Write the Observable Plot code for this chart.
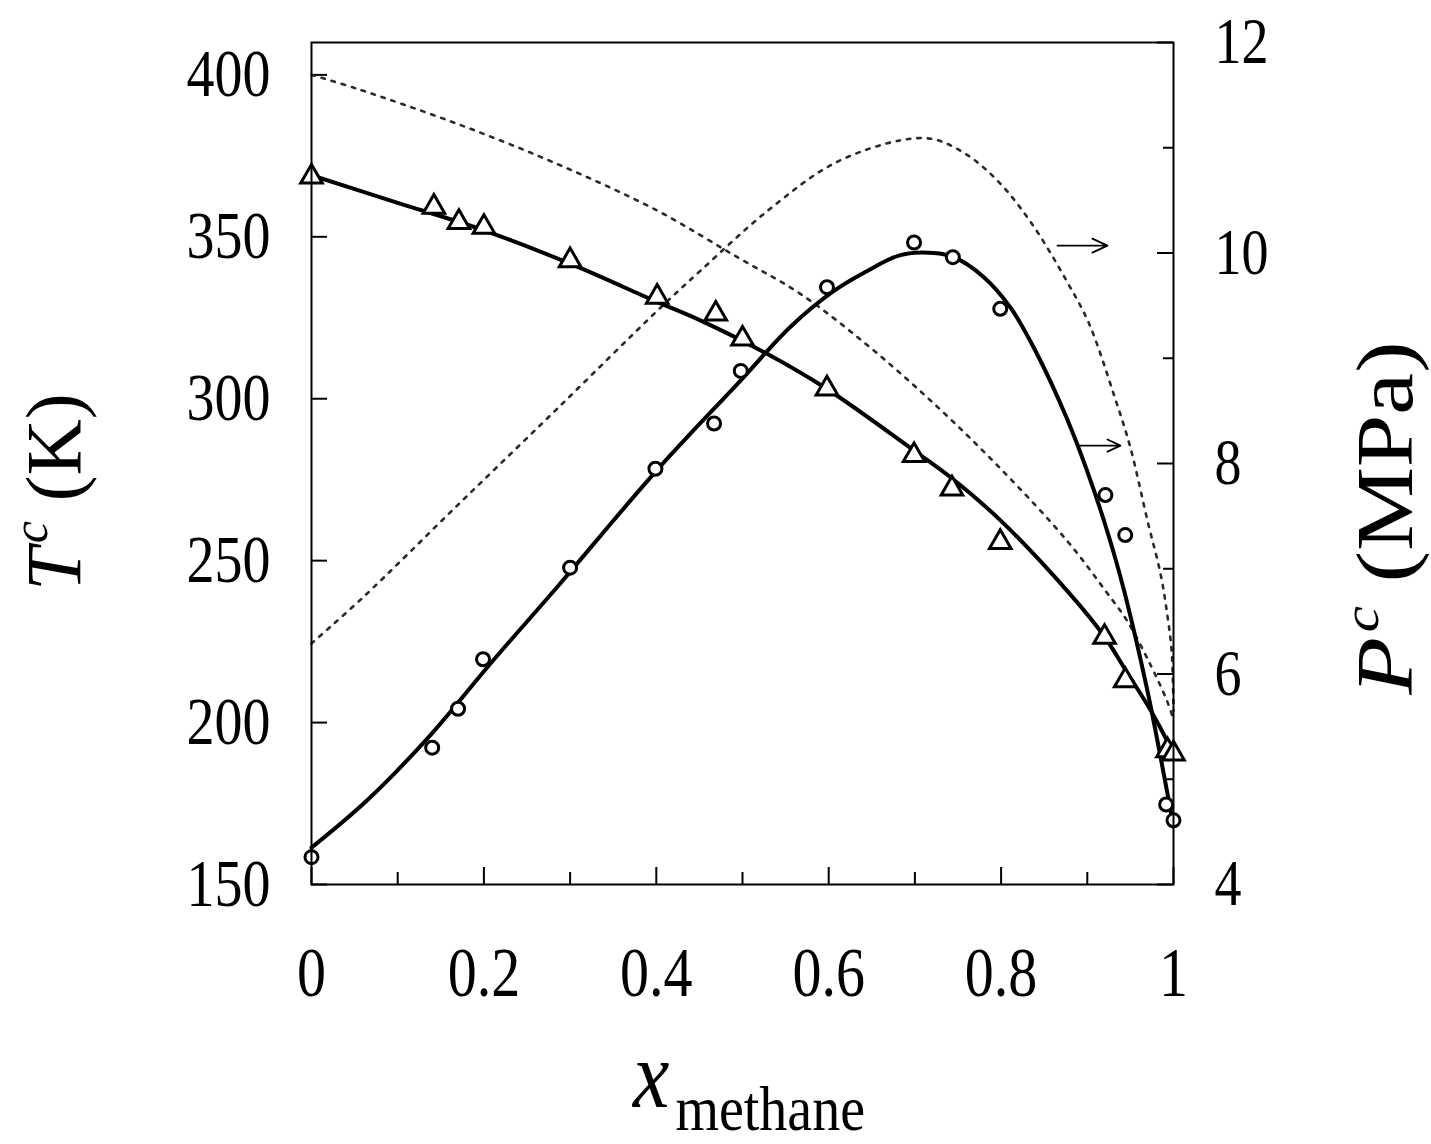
<!DOCTYPE html>
<html><head><meta charset="utf-8">
<script src="https://cdn.jsdelivr.net/npm/d3@7"></script>
<script src="https://cdn.jsdelivr.net/npm/@observablehq/plot@0.6"></script>
<style>html,body{margin:0;padding:0;background:#fff;} #chart svg{display:block;}</style>
</head><body><div id="chart"></div>
<script>
// ---- Data ----
// Experimental critical temperatures (triangles, left axis, K)
const xTri  = [0, 0.142, 0.171, 0.200, 0.300, 0.401, 0.469, 0.500, 0.598, 0.699, 0.743, 0.799, 0.920, 0.944, 0.993, 1.0];
const tcExp = [368.5, 359.2, 354.5, 353.0, 342.7, 331.4, 326.2, 318.5, 303.1, 282.5, 272.2, 255.7, 226.4, 213.0, 191.4, 190.4];
// Experimental critical pressures (circles, right axis, MPa)
const xCirc = [0, 0.140, 0.170, 0.199, 0.300, 0.399, 0.467, 0.498, 0.598, 0.699, 0.744, 0.799, 0.921, 0.944, 0.9915, 1.0];
const pcExp = [4.26, 5.30, 5.67, 6.14, 7.01, 7.95, 8.38, 8.88, 9.675, 10.10, 9.96, 9.47, 7.70, 7.32, 4.76, 4.61];
// Model 1 (solid) Tc
const xTcSolid = [0, 0.1, 0.2, 0.3, 0.4, 0.451, 0.529, 0.598, 0.699, 0.745, 0.799, 0.8805, 0.92, 0.946, 0.973, 1.0];
const tcSolid  = [369, 360.5, 352, 341.7, 330, 324.2, 313.8, 303, 284, 275, 262.5, 239.5, 226.5, 215.5, 204, 190.5];
// Model 1 (solid) Pc
const xPcSolid = [0, 0.0646, 0.138, 0.2077, 0.277, 0.3, 0.4, 0.498, 0.5557, 0.606, 0.6447, 0.6833, 0.722, 0.745, 0.78, 0.811, 0.838, 0.8767, 0.9075, 0.9307, 0.944, 0.9695, 0.9887, 1.0];
const pcSolid  = [4.35, 4.80, 5.42, 6.10, 6.75, 6.97, 7.93, 8.79, 9.30, 9.64, 9.83, 9.98, 10.0, 9.96, 9.77, 9.48, 9.10, 8.42, 7.75, 7.15, 6.75, 5.85, 5.05, 4.55];
// Model 2 (dotted) Tc
const xTcDot = [0, 0.053, 0.169, 0.285, 0.401, 0.494, 0.567, 0.645, 0.722, 0.799, 0.877, 0.923, 0.946, 0.973, 0.992, 1.0];
const tcDot  = [400, 395.7, 384.9, 372.5, 358.1, 343.7, 332.4, 316.5, 298.5, 278.5, 256, 240, 231.5, 218, 207, 201];
// Model 2 (dotted) Pc
const xPcDot = [0, 0.06, 0.169, 0.285, 0.401, 0.451, 0.529, 0.606, 0.683, 0.722, 0.761, 0.799, 0.838, 0.877, 0.902, 0.931, 0.95, 0.97, 0.985, 0.993, 0.998, 1.0];
const pcDot  = [6.29, 6.73, 7.60, 8.52, 9.45, 9.83, 10.40, 10.85, 11.07, 11.08, 10.93, 10.66, 10.25, 9.72, 9.33, 8.65, 8.15, 7.45, 6.95, 6.55, 6.20, 5.65];
// Arrows pointing to the right (pressure) axis
const arrowX1 = [0.8654, 0.8886];
const arrowX2 = [0.9234, 0.9385];
const arrowP  = [10.07, 8.17];
// Axes
const tDomain = [150, 410];
const pDomain = [4, 12];
const xMajorTicks = [0, 0.2, 0.4, 0.6, 0.8, 1];
const xMinorTicks = [0.1, 0.3, 0.5, 0.7, 0.9];
const xTickLabels = ["0", "0.2", "0.4", "0.6", "0.8", "1"];
const tTicks = [150, 200, 250, 300, 350, 400];
const pMajorTicks = [4, 6, 8, 10, 12];
const pMinorTicks = [5, 7, 9, 11];

// ---- Helpers ----
const pToT = p => tDomain[0] + (p - pDomain[0]) * (tDomain[1] - tDomain[0]) / (pDomain[1] - pDomain[0]);
const tToP = t => pDomain[0] + (t - tDomain[0]) * (pDomain[1] - pDomain[0]) / (tDomain[1] - tDomain[0]);
const rows = (xs, ys, f = v => v) => xs.map((x, i) => ({x, y: f(ys[i])}));

const W = 1431, H = 1144;
const mL = 311, mR = 258, mT = 42, mB = 260;
const fw = W - mL - mR, fh = H - mT - mB;
const serif = "'Liberation Serif', 'Times New Roman', serif";

const chart = Plot.plot({
  width: W, height: H,
  marginLeft: mL, marginRight: mR, marginTop: mT, marginBottom: mB,
  x: {domain: [0, 1]},
  y: {domain: tDomain},
  style: {fontFamily: serif, background: "white", color: "black"},
  marks: [
    // ticks (inward)
    Plot.tickX(xMajorTicks, {x: d => d, insetTop: fh - 17, strokeWidth: 2}),
    Plot.tickX(xMinorTicks, {x: d => d, insetTop: fh - 12, strokeWidth: 2}),
    Plot.tickY(tTicks, {y: d => d, insetRight: fw - 16, strokeWidth: 2}),
    Plot.tickY(pMajorTicks.map(pToT), {y: d => d, insetLeft: fw - 16, strokeWidth: 2}),
    Plot.tickY(pMinorTicks.map(pToT), {y: d => d, insetLeft: fw - 10, strokeWidth: 2}),
    // dotted model curves
    Plot.line(rows(xTcDot, tcDot), {x: "x", y: "y", curve: "catmull-rom", stroke: "#2a2a2a", strokeWidth: 2.6, strokeDasharray: "3.5,7"}),
    Plot.line(rows(xPcDot, pcDot, pToT), {x: "x", y: "y", curve: "catmull-rom", stroke: "#2a2a2a", strokeWidth: 2.6, strokeDasharray: "3.5,7"}),
    // solid model curves
    Plot.line(rows(xTcSolid, tcSolid), {x: "x", y: "y", curve: "catmull-rom", stroke: "black", strokeWidth: 4}),
    Plot.line(rows(xPcSolid, pcSolid, pToT), {x: "x", y: "y", curve: "catmull-rom", stroke: "black", strokeWidth: 4}),
    // arrows
    Plot.arrow(arrowX1.map((x1, i) => ({x1, x2: arrowX2[i], y: pToT(arrowP[i])})),
      {x1: "x1", x2: "x2", y1: "y", y2: "y", stroke: "black", strokeWidth: 1.8, headLength: 16, headAngle: 50}),
    // experimental points
    Plot.dot(rows(xTri, tcExp), {x: "x", y: "y", symbol: "triangle", r: 8, stroke: "black", strokeWidth: 3, fill: "white"}),
    Plot.dot(rows(xCirc, pcExp, pToT), {x: "x", y: "y", symbol: "circle", r: 6.5, stroke: "black", strokeWidth: 3, fill: "white"}),
    // frame
    Plot.frame({stroke: "black", strokeWidth: 2}),
    // axes (labels only)
    Plot.axisX(xMajorTicks, {tickSize: 0, tickPadding: 62, fontSize: 58, label: null,
      tickFormat: d => xTickLabels[xMajorTicks.indexOf(d)]}),
    Plot.axisY(tTicks, {anchor: "left", tickSize: 0, tickPadding: 41, fontSize: 56, label: null, tickFormat: d => String(d)}),
    Plot.axisY(pMajorTicks.map(pToT), {anchor: "right", tickSize: 0, tickPadding: 41, fontSize: 54, label: null,
      tickFormat: d => String(Math.round(tToP(d)))})
  ]
});

document.getElementById("chart").appendChild(chart);

// stretch tick labels vertically like the scanned original
chart.querySelectorAll('g[aria-label$="tick label"] text').forEach(t => {
  const tr = t.getAttribute("transform") || "";
  t.setAttribute("transform", tr + " scale(1,1.2)");
});

// axis titles
const svg = d3.select(chart);
const lt = svg.append("text")
  .attr("transform", "translate(80,492) rotate(-90)")
  .attr("text-anchor", "middle").attr("font-family", serif).attr("font-size", 78).attr("fill", "black");
lt.append("tspan").attr("font-style", "italic").text("T");
lt.append("tspan").attr("font-style", "italic").attr("font-size", 50).attr("dy", -33).attr("dx", 4).text("c");
lt.append("tspan").attr("dy", 33).text(" (K)");

const rt = svg.append("text")
  .attr("transform", "translate(1412,518) rotate(-90) scale(1.18,1)")
  .attr("text-anchor", "middle").attr("font-family", serif).attr("font-size", 80).attr("fill", "black");
rt.append("tspan").attr("font-style", "italic").text("P");
rt.append("tspan").attr("font-style", "italic").attr("font-size", 50).attr("dy", -34).attr("dx", 4).text("c");
rt.append("tspan").attr("dy", 34).text(" (MPa)");

const bt = svg.append("text")
  .attr("transform", "translate(633,1107) scale(1,1.15)")
  .attr("text-anchor", "start").attr("font-family", serif).attr("fill", "black");
bt.append("tspan").attr("font-style", "italic").attr("font-size", 82).text("x");
bt.append("tspan").attr("font-size", 56).attr("dx", 6).attr("dy", 20).text("methane");
</script>
</body></html>
